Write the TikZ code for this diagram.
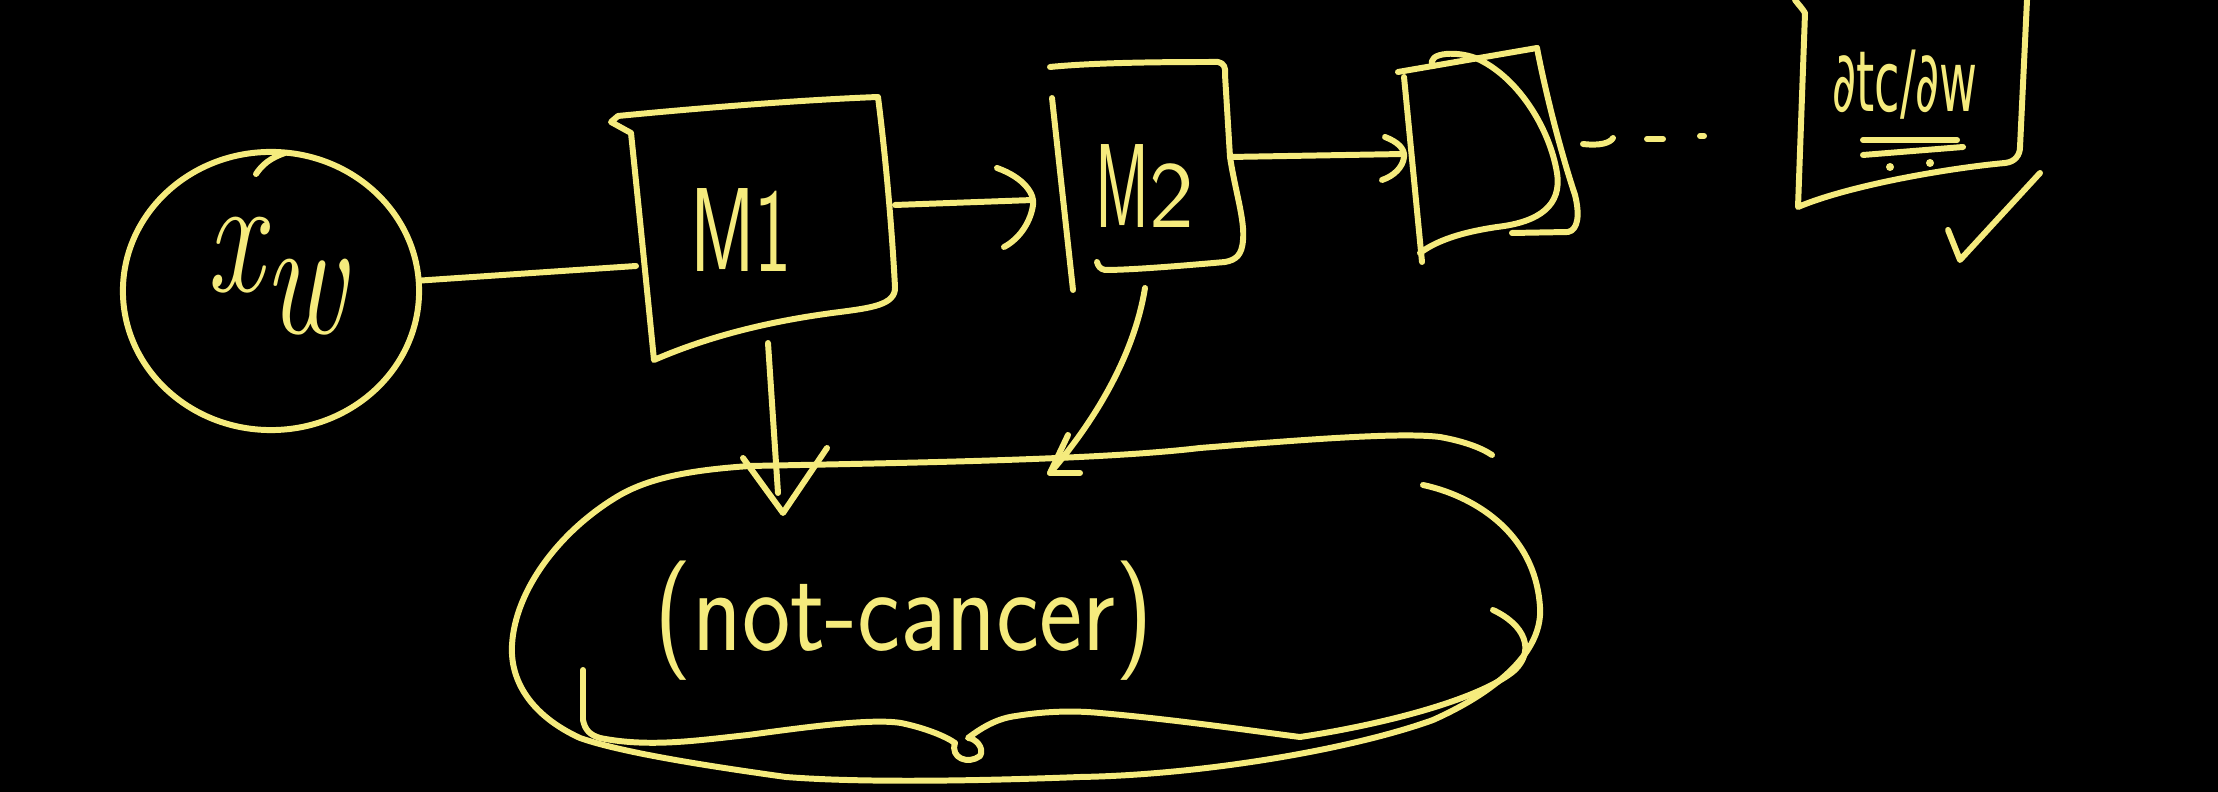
\documentclass[tikz,border=0pt]{standalone}
\usepackage{fontspec}
\newfontfamily\djs{DejaVu Sans}
\usetikzlibrary{arrows.meta,shapes.geometric,calc}
\definecolor{ink}{RGB}{245,235,125}
\begin{document}
\begin{tikzpicture}[x=0.01cm,y=-0.01cm,
  sketch/.style={draw=ink,line width=1.7pt,line cap=round,line join=round},
  lbl/.style={text=ink,inner sep=0pt,font=\sffamily}]
\path[fill=black,use as bounding box] (0,0) rectangle (2218,792);

% input circle
\node[sketch,ellipse,minimum width=2.96cm,minimum height=2.78cm,inner sep=0pt] (xw) at (271,291) {};
\draw[sketch] (256,174) .. controls (262,165) and (270,158) .. (285,153);
\node[lbl] (xwt) at (276,276) {\fontsize{48}{48}\selectfont\rmfamily\itshape\scalebox{0.75}[1]{x\raisebox{-0.25em}{w}}};

% box M1
\draw[sketch] (631,133) -- (611,122) -- (618,116) .. controls (700,108) and (800,100) .. (878,97)
  .. controls (886,160) and (892,230) .. (895,287) .. controls (896,305) and (870,308) .. (840,312)
  .. controls (760,322) and (700,340) .. (654,360) .. controls (646,280) and (638,200) .. (631,133);
\node[lbl] (m1) at (741,230) {\fontsize{34}{34}\selectfont\scalebox{0.66}[1]{M1}};

% box M2
\draw[sketch] (1050,67) .. controls (1100,62) and (1180,62) .. (1218,62) .. controls (1224,63) and (1226,68) .. (1225,75)
  -- (1230,157) .. controls (1235,190) and (1245,220) .. (1243,240) .. controls (1242,255) and (1236,260) .. (1225,262)
  .. controls (1180,266) and (1130,270) .. (1105,270) .. controls (1100,269) and (1098,266) .. (1097,262);
\draw[sketch] (1052,98) -- (1073,290);
\node[lbl] (m2) at (1145,186) {\fontsize{34}{34}\selectfont\scalebox{0.55}[1]{M}\fontsize{27}{27}\selectfont 2};

% box 3
\draw[sketch] (1398,72) -- (1537,48);
\draw[sketch] (1537,48) .. controls (1545,90) and (1560,150) .. (1575,195) .. controls (1580,215) and (1578,230) .. (1568,232) -- (1512,233);
\draw[sketch] (1404,77) -- (1422,262);
\draw[sketch] (1433,66) .. controls (1425,52) and (1460,50) .. (1480,60) .. controls (1520,80) and (1550,130) .. (1557,173)
  .. controls (1562,205) and (1540,222) .. (1497,227) .. controls (1470,231) and (1440,238) .. (1420,253);

% dots
\draw[sketch] (1583,144) .. controls (1600,146) and (1610,143) .. (1613,138);
\draw[sketch] (1647,139) -- (1663,139);
\draw[sketch] (1700,136) -- (1704,136);

% final box
\draw[sketch] (1795,0) .. controls (1798,4) and (1802,8) .. (1805,13) -- (1798,207)
  .. controls (1850,185) and (1950,168) .. (2005,163) .. controls (2015,162) and (2020,155) .. (2020,147) -- (2027,0);
\node[lbl] (grad) at (1905,85) {\fontsize{24}{24}\selectfont\scalebox{0.55}[1]{\djs ∂tc/∂w}};
\draw[sketch] (1863,140) -- (1957,140);
\draw[sketch] (1863,155) -- (1963,147);
\fill[ink] (1890,167) circle (4);
\fill[ink] (1930,163) circle (4);
% check mark
\draw[sketch] (1948,230) -- (1960,260) -- (2040,173);

% cloud
\draw[sketch] (1423,485) .. controls (1470,495) and (1535,530) .. (1540,607) .. controls (1543,650) and (1500,690) .. (1433,720)
  .. controls (1350,750) and (1200,775) .. (1080,777) .. controls (950,782) and (850,782) .. (786,777)
  .. controls (700,765) and (620,752) .. (580,738) .. controls (530,715) and (510,680) .. (512,645)
  .. controls (515,590) and (560,530) .. (620,495) .. controls (650,478) and (690,470) .. (750,466)
  .. controls (900,463) and (1100,460) .. (1200,448) .. controls (1300,440) and (1400,432) .. (1440,437)
  .. controls (1462,441) and (1480,447) .. (1492,455);
\draw[sketch] (583,670) -- (583,720) .. controls (585,730) and (590,735) .. (600,738)
  .. controls (650,748) and (700,740) .. (748,735) .. controls (800,728) and (870,718) .. (901,723)
  .. controls (925,728) and (945,736) .. (955,743) .. controls (950,758) and (968,765) .. (980,756)
  .. controls (985,748) and (975,738) .. (968,738) .. controls (985,725) and (1000,718) .. (1016,716)
  .. controls (1040,712) and (1070,710) .. (1100,713) .. controls (1180,720) and (1260,732) .. (1300,737)
  .. controls (1380,725) and (1480,700) .. (1515,670) .. controls (1535,650) and (1525,625) .. (1493,610);
\node[lbl] (nc) at (904,621) {\fontsize{34}{34}\selectfont\scalebox{0.86}[1]{(not-cancer)}};

% connectors
\coordinate (m1in) at (636,266);
\draw[sketch] (xw.4) -- (m1in);
\coordinate (m1out) at (895,205);
\coordinate (m2in) at (1033,200);
\draw[sketch] (m1out) -- (m2in);
\draw[sketch] ($(m2in)+(-36,-32)$) .. controls ($(m2in)+(-8,-22)$) and ($(m2in)+(2,-5)$) .. ($(m2in)+(0,5)$)
  .. controls ($(m2in)+(-2,20)$) and ($(m2in)+(-12,38)$) .. ($(m2in)+(-29,47)$);
\coordinate (m2out) at (1230,157);
\coordinate (b3in) at (1404,154);
\draw[sketch] (m2out) -- (b3in);
\draw[sketch] ($(b3in)+(-19,-17)$) .. controls ($(b3in)+(-6,-12)$) and ($(b3in)+(1,-5)$) .. ($(b3in)+(0,3)$)
  .. controls ($(b3in)+(-1,13)$) and ($(b3in)+(-10,22)$) .. ($(b3in)+(-22,26)$);

\coordinate (m1bot) at (768,343);
\coordinate (cl1) at (783,513);
\draw[sketch] (m1bot) -- ($(cl1)+(-5,-20)$);
\draw[sketch] ($(cl1)+(-40,-55)$) -- (cl1) -- ($(cl1)+(44,-65)$);

\coordinate (m2bot) at (1145,288);
\coordinate (cl2) at (1050,473);
\draw[sketch] (m2bot) .. controls (1135,350) and (1100,415) .. (cl2);
\draw[sketch] ($(cl2)+(18,-38)$) -- (cl2) -- ($(cl2)+(30,0)$);
\end{tikzpicture}
\end{document}
